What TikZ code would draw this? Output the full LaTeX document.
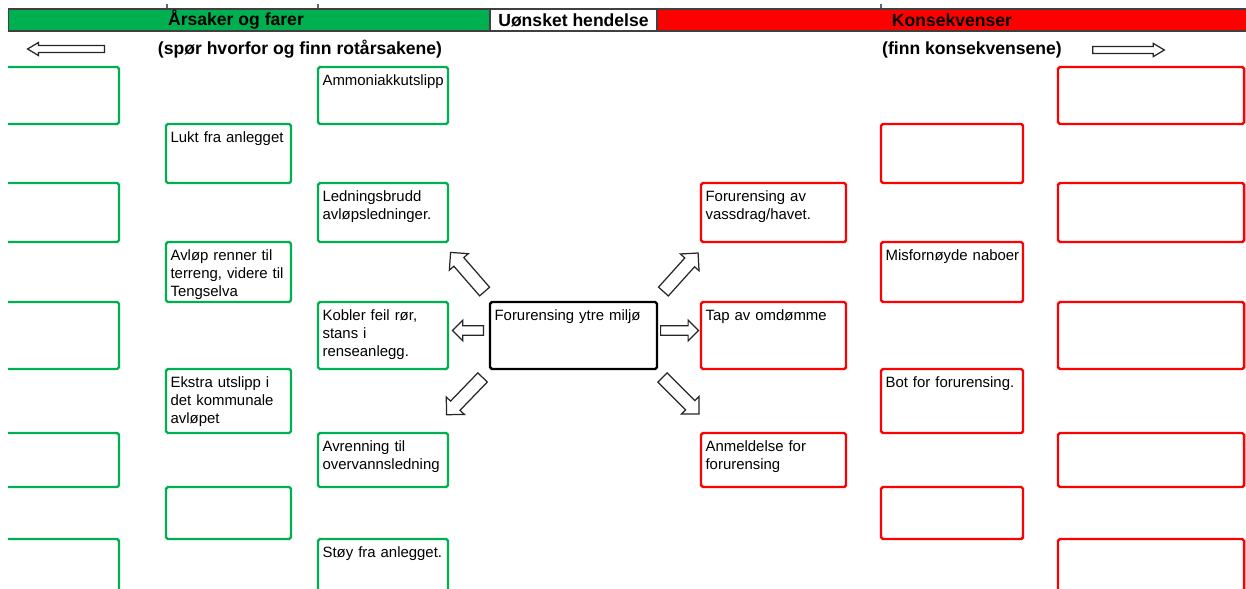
\documentclass[tikz,border=0pt]{standalone}
\usepackage{fontspec}
\setmainfont{Liberation Sans}
\usetikzlibrary{
    shapes.arrows,
    positioning,
    calc,
    fit
}
\definecolor{cause}{HTML}{00B050}
\definecolor{conseq}{HTML}{FF0000}
\tikzset{
    % Cell frame
    cell/.style={
        rectangle,
        draw=#1,
        line width=1.4pt,
        rounded corners=1pt,
        inner sep=0pt,
        outer sep=0pt
    },
    cause cell/.style={cell=cause},
    conseq cell/.style={cell=conseq},
    % Text in the upper left corner of a cell
    cell text/.style={
        anchor=north west,
        align=left,
        text width=3cm,
        font=\fontsize{8.5}{10.2}\selectfont,
        inner xsep=2.4pt,
        inner ysep=3.6pt,
        text height=6.6pt
    },
    % Header row
    header/.style={
        rectangle,
        draw=black!75,
        line width=0.6pt,
        inner sep=0pt
    },
    header text/.style={
        font=\fontsize{10}{12}\selectfont\bfseries
    },
    % Hollow block arrows
    hollow/.style={
        single arrow,
        draw=black!85,
        fill=white,
        line width=0.7pt,
        inner xsep=0pt,
        minimum width=0pt,
        anchor=tail
    },
    fat arrow/.style={hollow, inner ysep=3.4pt, single arrow head extend=3.4pt, minimum height=29.5pt},
    side arrow/.style={hollow, inner ysep=2.4pt, single arrow head extend=3.1pt},
    thin arrow/.style={hollow, inner ysep=1.7pt, single arrow head extend=1.7pt, single arrow tip angle=62},
    tick/.style={draw=black!60, line width=0.6pt}
}

\begin{document}
\begin{tikzpicture}[x=0.02cm, y=-0.02cm]
    \useasboundingbox (0,0) rectangle (1246,588);
    \clip (8,0) rectangle (1246,588);

    % Header row
    \draw[tick] (167,4) -- (167,9);
    \draw[tick] (318,4) -- (318,9);
    \draw[tick] (881,4) -- (881,9);
    \node[header, fill=cause, fit={(8,9) (490,31)}] (causes) {};
    \node[header, fill=conseq, fit={(657,9) (1247,31)}] (conseqs) {};
    \node[header, fill=white, fit={(490,9) (657,31)}] (event) {};
    \node[header text] (causes-t) at (236,20) {Årsaker og farer};
    \node[header text] (event-t) at (event) {Uønsket hendelse};
    \node[header text] (conseqs-t) at (conseqs) {Konsekvenser};

    % Direction hints
    \node[header text] (why) at (300,49) {(spør hvorfor og finn rotårsakene)};
    \node[header text] (find) at (972,50) {(finn konsekvensene)};
    \node[thin arrow, minimum height=43.7pt, rotate=180] (back) at (105,49) {};
    \node[thin arrow, minimum height=40.8pt] (fwd) at (1092,50) {};

    % Unwanted event
    \node[cell=black, fit={(490,302) (657,369)}, label={[cell text]north west:Forurensing ytre miljø}] (hendelse) {};

    % Causes, outer column
    \node[cause cell, fit={(-20,67) (119,124)}] (c1a) {};
    \node[cause cell, fit={(-20,183) (119,242)}] (c1b) {};
    \node[cause cell, fit={(-20,302) (119,369)}] (c1c) {};
    \node[cause cell, fit={(-20,433) (119,487)}] (c1d) {};
    \node[cause cell, fit={(-20,539) (119,600)}] (c1e) {};

    % Causes, middle column
    \node[cause cell, fit={(166,124) (291,183)}, label={[cell text]north west:Lukt fra anlegget}] (lukt) {};
    \node[cause cell, fit={(166,242) (291,302)}, label={[cell text]north west:Avløp renner til\\terreng, videre til\\Tengselva}] (avlop) {};
    \node[cause cell, fit={(166,369) (291,433)}, label={[cell text]north west:Ekstra utslipp i\\det kommunale\\avløpet}] (ekstra) {};
    \node[cause cell, fit={(166,487) (291,539)}] (c2d) {};

    % Causes, inner column
    \node[cause cell, fit={(318,67) (448,124)}, label={[cell text]north west:Ammoniakkutslipp}] (ammon) {};
    \node[cause cell, fit={(318,183) (448,242)}, label={[cell text]north west:Ledningsbrudd\\avløpsledninger.}] (ledn) {};
    \node[cause cell, fit={(318,302) (448,369)}, label={[cell text]north west:Kobler feil rør,\\stans i\\renseanlegg.}] (kobler) {};
    \node[cause cell, fit={(318,433) (448,487)}, label={[cell text]north west:Avrenning til\\overvannsledning}] (avrenn) {};
    \node[cause cell, fit={(318,539) (448,600)}, label={[cell text]north west:Støy fra anlegget.}] (stoy) {};

    % Consequences, inner column
    \node[conseq cell, fit={(701,183) (846,242)}, label={[cell text]north west:Forurensing av\\vassdrag/havet.}] (vassdrag) {};
    \node[conseq cell, fit={(701,302) (846,369)}, label={[cell text]north west:Tap av omdømme}] (omdomme) {};
    \node[conseq cell, fit={(701,433) (846,487)}, label={[cell text]north west:Anmeldelse for\\forurensing}] (anmeld) {};

    % Consequences, middle column
    \node[conseq cell, fit={(881,124) (1023,183)}] (k5a) {};
    \node[conseq cell, fit={(881,242) (1023,302)}, label={[cell text]north west:Misfornøyde naboer}] (naboer) {};
    \node[conseq cell, fit={(881,369) (1023,433)}, label={[cell text]north west:Bot for forurensing.}] (bot) {};
    \node[conseq cell, fit={(881,487) (1023,539)}] (k5d) {};

    % Consequences, outer column
    \node[conseq cell, fit={(1058,67) (1244,124)}] (k6a) {};
    \node[conseq cell, fit={(1058,183) (1244,242)}] (k6b) {};
    \node[conseq cell, fit={(1058,302) (1244,369)}] (k6c) {};
    \node[conseq cell, fit={(1058,433) (1244,487)}] (k6d) {};
    \node[conseq cell, fit={(1058,539) (1244,600)}] (k6e) {};

    % Block arrows out of the event
    \node[fat arrow, rotate=131] (to-ledn) at ($(hendelse.north west)+(-5,-10)$) {};
    \node[fat arrow, rotate=48] (to-vassdrag) at ($(hendelse.north east)+(6,-10)$) {};
    \node[fat arrow, rotate=226] (to-avrenn) at ($(hendelse.south west)+(-7,8)$) {};
    \node[fat arrow, rotate=-45] (to-anmeld) at ($(hendelse.south east)+(5,8)$) {};
    \node[side arrow, minimum height=17.6pt, rotate=180] (to-kobler) at ($(hendelse.west)+(-6,-5)$) {};
    \node[side arrow, minimum height=21.5pt] (to-omdomme) at ($(hendelse.east)+(3,-5)$) {};
\end{tikzpicture}
\end{document}
